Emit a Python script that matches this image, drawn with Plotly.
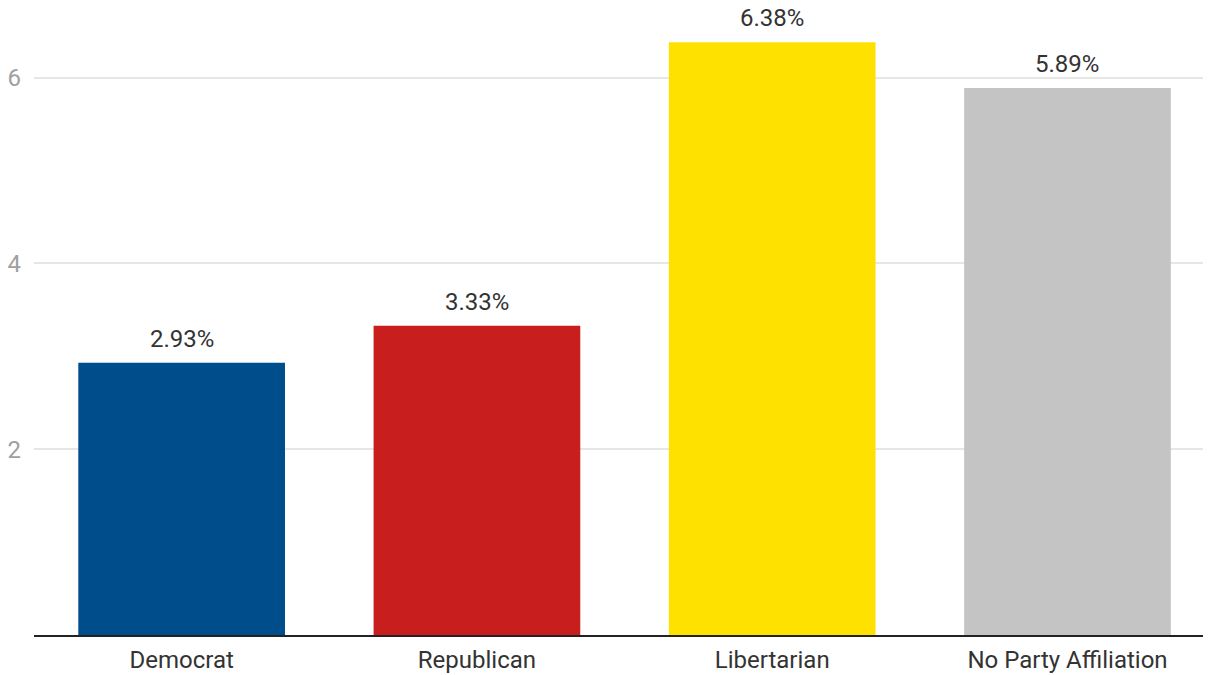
import plotly.graph_objects as go

categories = ["Democrat", "Republican", "Libertarian", "No Party Affiliation"]
values = [2.93, 3.33, 6.38, 5.89]
labels = ["2.93%", "3.33%", "6.38%", "5.89%"]
colors = ["#004D8C", "#C81E1E", "#FFE100", "#C4C4C4"]
y_ticks = [2, 4, 6]

fig = go.Figure(go.Bar(
    x=categories, y=values,
    marker=dict(color=colors, line=dict(width=0)),
    hoverinfo="skip",
))

for c, v, t in zip(categories, values, labels):
    fig.add_annotation(
        x=c, y=v, text=t, showarrow=False, yanchor="middle", yshift=24,
        font=dict(family="Roboto", size=24, color="#333333"),
    )

fig.update_layout(
    width=1203, height=667,
    margin=dict(l=26, r=0, t=0, b=40),
    paper_bgcolor="white", plot_bgcolor="white",
    bargap=0.3, showlegend=False,
    font=dict(family="Roboto"),
    xaxis=dict(
        range=[-0.5, 3.486],
        showgrid=False, showline=True, linecolor="#222222", linewidth=2,
        tickfont=dict(family="Roboto", size=24, color="#333333"),
        ticks="", ticklabelstandoff=2,
    ),
    yaxis=dict(
        range=[0, 6.75], tickvals=y_ticks, showgrid=True, gridcolor="#e6e6e6",
        gridwidth=2, zeroline=False, showline=False,
        tickfont=dict(family="Roboto", size=24, color="#a0a0a0"),
        ticks="", ticklabelstandoff=12,
    ),
)

fig.write_html("out.html")
